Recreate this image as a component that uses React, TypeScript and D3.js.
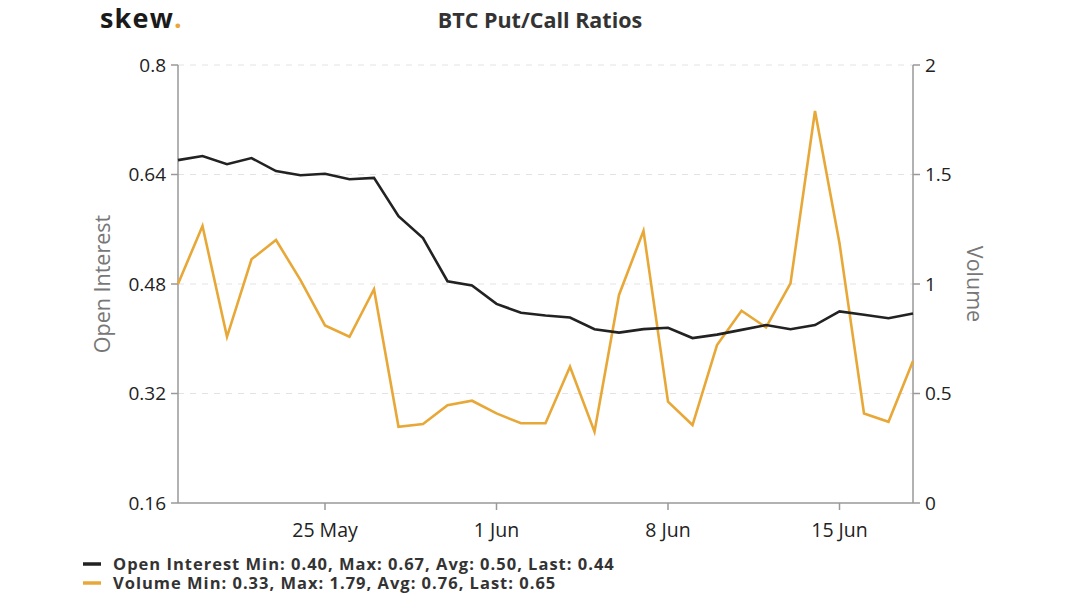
import React from "react";
import * as d3 from "d3";

const dates = d3.range(0, 31).map((i) => new Date(2020, 4, 19 + i));
const openInterest = [0.661, 0.667, 0.655, 0.664, 0.645, 0.639, 0.641, 0.633, 0.635, 0.579, 0.547, 0.484, 0.478, 0.451, 0.438, 0.434, 0.431, 0.414, 0.409, 0.414, 0.416, 0.401, 0.406, 0.413, 0.42, 0.414, 0.42, 0.44, 0.435, 0.43, 0.437];
const volume = [1.0, 1.265, 0.759, 1.113, 1.201, 1.018, 0.811, 0.759, 0.976, 0.348, 0.361, 0.447, 0.467, 0.409, 0.364, 0.364, 0.622, 0.326, 0.95, 1.243, 0.463, 0.356, 0.721, 0.878, 0.802, 1.003, 1.79, 1.186, 0.409, 0.371, 0.648];
const leftTicks = [0.16, 0.32, 0.48, 0.64, 0.8];
const rightTicks = [0, 0.5, 1, 1.5, 2];
const xTickDates = [new Date(2020, 4, 25), new Date(2020, 5, 1), new Date(2020, 5, 8), new Date(2020, 5, 15)];
const legendItems = [
  { label: "Open Interest Min: 0.40, Max: 0.67, Avg: 0.50, Last: 0.44", color: "#222222" },
  { label: "Volume Min: 0.33, Max: 1.79, Avg: 0.76, Last: 0.65", color: "#E8A838" },
];

const W = 1080, H = 603;
const L = 178, R = 913, T = 65, B = 503;
const font = "'Open Sans', sans-serif";

export default function App() {
  const x = d3.scaleTime().domain([dates[0], dates[dates.length - 1]]).range([L, R]);
  const yL = d3.scaleLinear().domain([0.16, 0.8]).range([B, T]);
  const yR = d3.scaleLinear().domain([0, 2]).range([B, T]);
  const lineOI = d3.line<number>().x((_, i) => x(dates[i])).y((d) => yL(d));
  const lineV = d3.line<number>().x((_, i) => x(dates[i])).y((d) => yR(d));
  const fmt = d3.timeFormat("%-d %b");
  return (
    <svg width={W} height={H} style={{ position: "absolute", left: 0, top: 0, background: "#fff" }} fontFamily={font}>
      <rect width={W} height={H} fill="#fff" />
      <text x={100} y={28} fontSize={27} fontWeight={700} fill="#1a1a1a" letterSpacing={1.2}>skew<tspan fill="#E8A838">.</tspan></text>
      <text x={540} y={28} textAnchor="middle" fontSize={21.5} fontWeight={700} fill="#333">BTC Put/Call Ratios</text>
      {leftTicks.filter((t) => t !== 0.16).map((t) => (
        <line key={"g" + t} x1={L} x2={R} y1={yL(t)} y2={yL(t)} stroke="#e3e3e3" strokeDasharray="6,6" />
      ))}
      <line x1={L} x2={L} y1={T} y2={B} stroke="#999" strokeWidth={1.5} />
      <line x1={R} x2={R} y1={T} y2={B} stroke="#999" strokeWidth={1.5} />
      <line x1={L} x2={R} y1={B} y2={B} stroke="#999" strokeWidth={1.5} />
      {leftTicks.map((t) => (
        <g key={"l" + t}>
          <line x1={L - 7} x2={L} y1={yL(t)} y2={yL(t)} stroke="#999" strokeWidth={1.5} />
          <text x={L - 12} y={yL(t)} dy="0.35em" textAnchor="end" fontSize={19} fill="#222">{String(t)}</text>
        </g>
      ))}
      {rightTicks.map((t) => (
        <g key={"r" + t}>
          <line x1={R} x2={R + 7} y1={yR(t)} y2={yR(t)} stroke="#999" strokeWidth={1.5} />
          <text x={R + 12} y={yR(t)} dy="0.35em" textAnchor="start" fontSize={19} fill="#222">{String(t)}</text>
        </g>
      ))}
      {xTickDates.map((d) => (
        <g key={d.toISOString()}>
          <line x1={x(d)} x2={x(d)} y1={B} y2={B + 7} stroke="#999" strokeWidth={1.5} />
          <text x={x(d)} y={537} textAnchor="middle" fontSize={19.5} fill="#222">{fmt(d)}</text>
        </g>
      ))}
      <text transform={`translate(110,${(T + B) / 2}) rotate(-90)`} textAnchor="middle" fontSize={21.5} fill="#777">Open Interest</text>
      <text transform={`translate(967,${(T + B) / 2}) rotate(90)`} textAnchor="middle" fontSize={21.5} fill="#777">Volume</text>
      <path d={lineV(volume) || ""} fill="none" stroke="#E8A838" strokeWidth={2.6} />
      <path d={lineOI(openInterest) || ""} fill="none" stroke="#222" strokeWidth={2.6} />
      {legendItems.map((it, i) => (
        <g key={it.label}>
          <line x1={83} x2={101} y1={564 + i * 19} y2={564 + i * 19} stroke={it.color} strokeWidth={3.5} />
          <text x={113} y={570 + i * 19} fontSize={16.5} fontWeight={700} fill="#333" letterSpacing={1.0}>{it.label}</text>
        </g>
      ))}
    </svg>
  );
}
